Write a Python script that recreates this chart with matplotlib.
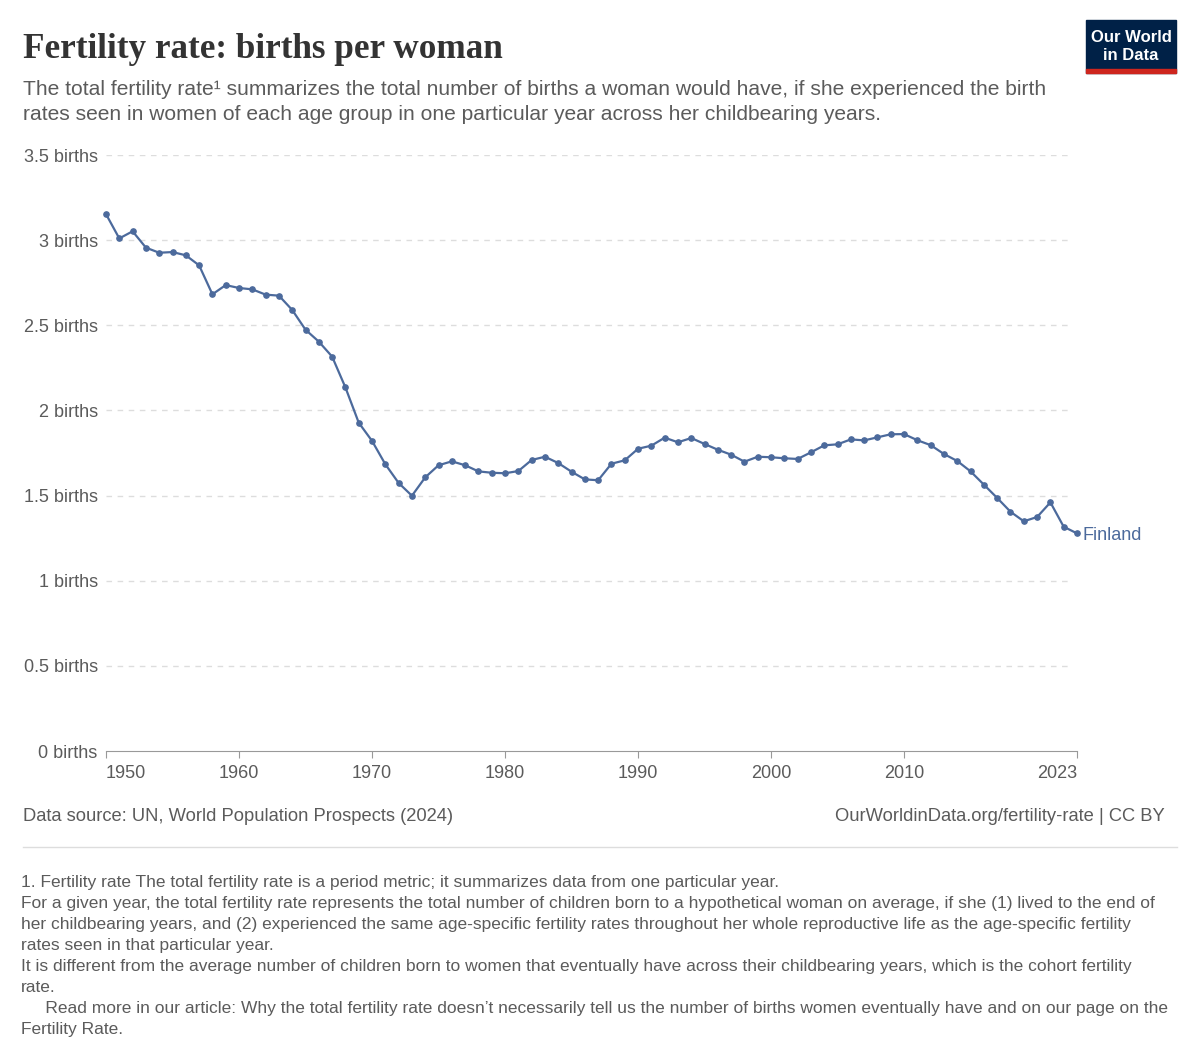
import matplotlib.pyplot as plt
import numpy as np

plt.rcParams['font.family'] = ['Liberation Sans', 'DejaVu Sans']

years = list(range(1950, 2024))
births = [3.153, 3.010, 3.052, 2.956, 2.926, 2.930, 2.911, 2.852, 2.682, 2.736,
          2.719, 2.711, 2.680, 2.674, 2.590, 2.474, 2.404, 2.316, 2.135, 1.928,
          1.821, 1.684, 1.574, 1.499, 1.607, 1.678, 1.701, 1.678, 1.642, 1.634,
          1.631, 1.644, 1.709, 1.728, 1.691, 1.640, 1.595, 1.590, 1.687, 1.707,
          1.775, 1.793, 1.840, 1.813, 1.838, 1.803, 1.769, 1.740, 1.699, 1.728,
          1.725, 1.719, 1.715, 1.754, 1.795, 1.801, 1.830, 1.824, 1.842, 1.860,
          1.861, 1.825, 1.796, 1.744, 1.703, 1.642, 1.564, 1.486, 1.405, 1.349,
          1.374, 1.460, 1.317, 1.278]
country = 'Finland'

y_ticks = [0, 0.5, 1, 1.5, 2, 2.5, 3, 3.5]
y_labels = ['0 births', '0.5 births', '1 births', '1.5 births', '2 births',
            '2.5 births', '3 births', '3.5 births']
x_ticks = [1950, 1960, 1970, 1980, 1990, 2000, 2010, 2023]

title = 'Fertility rate: births per woman'
subtitle = ['The total fertility rate\u00b9 summarizes the total number of births a woman would have, if she experienced the birth',
            'rates seen in women of each age group in one particular year across her childbearing years.']
source = 'Data source: UN, World Population Prospects (2024)'
url = 'OurWorldinData.org/fertility-rate | CC BY'
notes = [
    '1. Fertility rate The total fertility rate is a period metric; it summarizes data from one particular year.',
    'For a given year, the total fertility rate represents the total number of children born to a hypothetical woman on average, if she (1) lived to the end of',
    'her childbearing years, and (2) experienced the same age-specific fertility rates throughout her whole reproductive life as the age-specific fertility',
    'rates seen in that particular year.',
    'It is different from the average number of children born to women that eventually have across their childbearing years, which is the cohort fertility',
    'rate.',
    '     Read more in our article: Why the total fertility rate doesn\u2019t necessarily tell us the number of births women eventually have and on our page on the',
    'Fertility Rate.',
]

W, H = 1200, 1060
line_color = '#4c6a9c'
grey = '#5b5b5b'

fig = plt.figure(figsize=(W / 100, H / 100), dpi=100)
ax = fig.add_axes([106 / W, 1 - 751 / H, (1077 - 106) / W, (751 - 155) / H])

ax.plot(years, births, color=line_color, lw=1.6, marker='o', markersize=3.8,
        clip_on=False, zorder=3)
ax.text(years[-1] + 0.45, births[-1] - 0.012, country, color=line_color,
        fontsize=13, va='center', ha='left')

ax.set_xlim(1950, 2023)
ax.set_ylim(0, 3.5)
ax.set_yticks(y_ticks)
ax.set_yticklabels(y_labels)
ax.set_xticks(x_ticks)
ax.set_xticklabels([str(x) for x in x_ticks])
xl = ax.get_xticklabels()
xl[0].set_ha('left')
xl[-1].set_ha('right')

for v in y_ticks[1:]:
    ax.axhline(v, xmax=(1072 - 106) / (1077 - 106), color='#dddddd', lw=1,
               ls=(0, (4, 4)), zorder=1)

for s in ['top', 'right', 'left']:
    ax.spines[s].set_visible(False)
ax.spines['bottom'].set_color('#999999')
ax.tick_params(axis='y', length=0, pad=6, labelsize=13, labelcolor=grey)
ax.tick_params(axis='x', length=5, color='#999999', pad=5, labelsize=13,
               labelcolor=grey)

# header
fig.text(23 / W, 1 - 49 / H, title, fontsize=25.3, fontweight='bold',
         family=['Liberation Serif', 'DejaVu Serif'], color='#333333', va='center')
for i, line in enumerate(subtitle):
    fig.text(23 / W, 1 - (89.5 + i * 25) / H, line, fontsize=15.1, color=grey,
             va='center')

# logo
fig.patches.append(plt.Rectangle((1086 / W, 1 - 73 / H), 90 / W, 53 / H,
                                 transform=fig.transFigure, color='#002147'))
fig.patches.append(plt.Rectangle((1086 / W, 1 - 73 / H), 90 / W, 4 / H,
                                 transform=fig.transFigure, color='#ce261e'))
fig.text(1131 / W, 1 - 38 / H, 'Our World', color='white', fontsize=12,
         ha='center', va='center', fontweight='bold')
fig.text(1131 / W, 1 - 56 / H, 'in Data', color='white', fontsize=12,
         ha='center', va='center', fontweight='bold')

# footer
fig.text(23 / W, 1 - 816.5 / H, source, fontsize=13.2, color=grey, va='center')
fig.text(1165 / W, 1 - 816.5 / H, url, fontsize=13.2, color=grey, va='center',
         ha='right')
fig.add_artist(plt.Line2D([23 / W, 1177 / W], [1 - 847 / H, 1 - 847 / H],
                          color='#dddddd', lw=1))
for i, line in enumerate(notes):
    fig.text(21 / W, 1 - (883 + i * 20.9) / H, line, fontsize=12.5, color=grey,
             va='center')

fig.savefig('out.png', dpi=100)
